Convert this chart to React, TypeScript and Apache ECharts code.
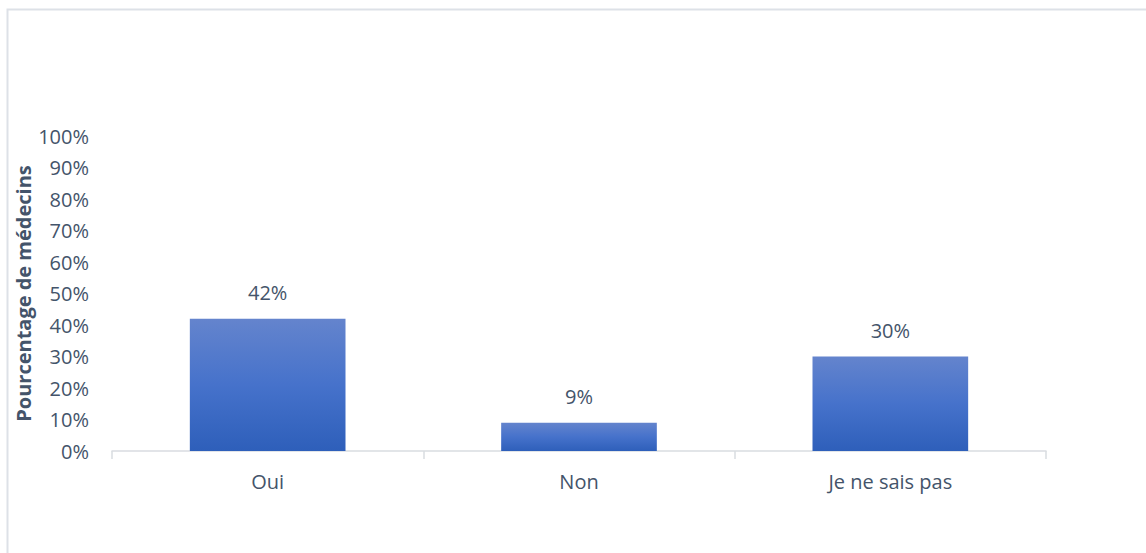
import React, { useEffect, useRef } from "react";
import * as echarts from "echarts";

const categories = ["Oui", "Non", "Je ne sais pas"];
const values = [42, 9, 30];
const yTicks = [0, 10, 20, 30, 40, 50, 60, 70, 80, 90, 100];
const yAxisTitle = "Pourcentage de médecins";

const TEXT = "#44546a";
const FONT = "'Open Sans', sans-serif";

export default function App() {
  const ref = useRef<HTMLDivElement>(null);
  useEffect(() => {
    if (!ref.current) return;
    const chart = echarts.init(ref.current, null, { renderer: "svg" });
    chart.setOption({
      animation: false,
      backgroundColor: "#ffffff",
      graphic: [
        {
          type: "rect",
          left: 5,
          top: 7,
          shape: { width: 1300, height: 700 },
          style: { fill: "none", stroke: "#dde1e7", lineWidth: 2 },
          silent: true,
        },
      ],
      grid: { left: 112, right: 100, top: 136, bottom: 102 },
      xAxis: {
        type: "category",
        data: categories,
        axisLine: { lineStyle: { color: "#d9dce1", width: 1.5 } },
        axisTick: { show: true, length: 8, lineStyle: { color: "#d9dce1", width: 1.5 } },
        axisLabel: { color: TEXT, fontSize: 20, fontFamily: FONT, margin: 20 },
      },
      yAxis: {
        type: "value",
        min: 0,
        max: 100,
        interval: 10,
        name: yAxisTitle,
        nameLocation: "middle",
        nameGap: 79,
        nameMoveOverlap: false,
        nameTextStyle: { color: TEXT, fontSize: 20, fontWeight: "bold", fontFamily: FONT },
        axisLine: { show: false },
        axisTick: { show: false },
        splitLine: { show: false },
        axisLabel: {
          color: TEXT,
          fontSize: 20,
          fontFamily: FONT,
          margin: 23,
          formatter: (v: number) => (yTicks.includes(v) ? v + "%" : ""),
        },
      },
      series: [
        {
          type: "bar",
          data: values,
          barWidth: "50%",
          itemStyle: {
            color: new echarts.graphic.LinearGradient(0, 0, 0, 1, [
              { offset: 0, color: "#6484cd" },
              { offset: 0.5, color: "#4672cb" },
              { offset: 1, color: "#2e5fba" },
            ]),
          },
          label: {
            show: true,
            position: "top",
            distance: 16,
            color: TEXT,
            fontSize: 20,
            fontFamily: FONT,
            formatter: (p: any) => p.value + "%",
          },
        },
      ],
    });
    return () => chart.dispose();
  }, []);
  return (
    <div
      ref={ref}
      style={{ position: "fixed", left: 0, top: 0, width: 1146, height: 553 }}
    />
  );
}
